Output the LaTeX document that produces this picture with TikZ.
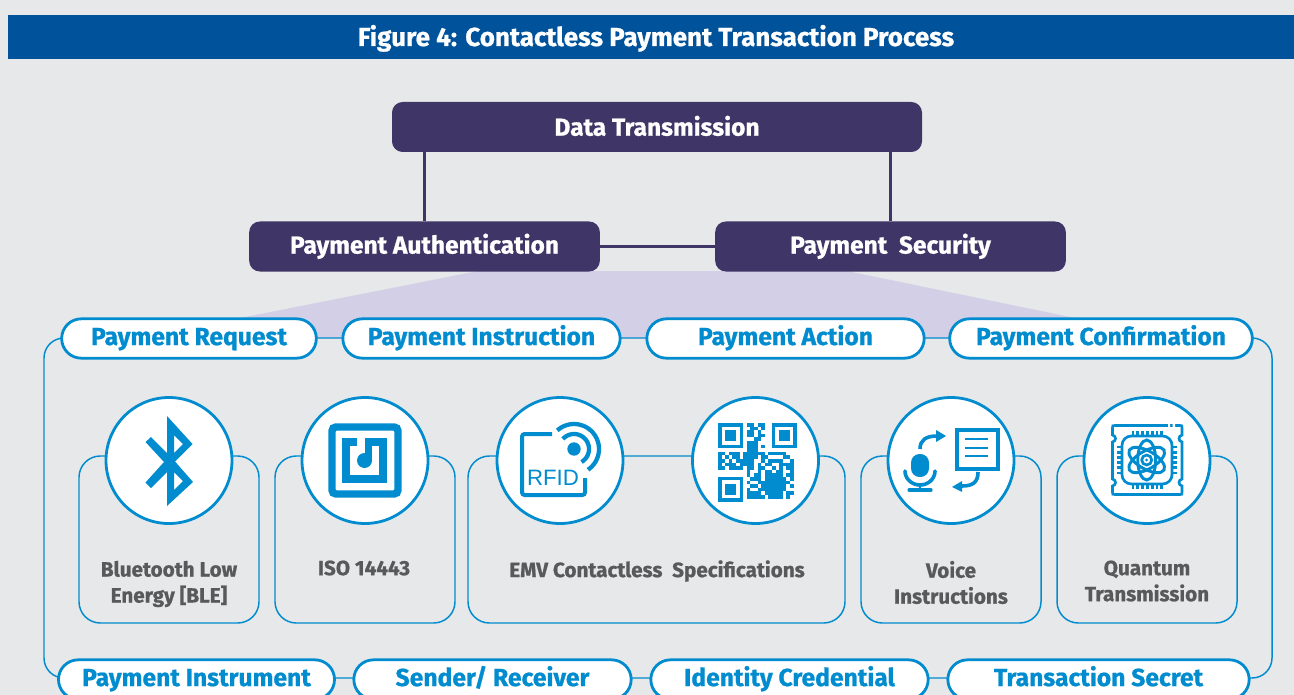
\documentclass[tikz,border=0pt]{standalone}
\usepackage{fontspec}
\setmainfont{Fira Sans}[BoldFeatures={FakeBold=0.8}]
\newfontfamily\tagfont{Liberation Sans}
\usetikzlibrary{positioning, calc}
\definecolor{pagegray}{RGB}{231,232,234}
\definecolor{bandblue}{RGB}{0,82,155}
\definecolor{darkviolet}{RGB}{63,53,102}
\definecolor{paleviolet}{RGB}{210,207,230}
\definecolor{lineblue}{RGB}{0,140,206}
\definecolor{textgray}{RGB}{88,89,91}
\tikzset{
    violetbox/.style={draw=none, fill=darkviolet, rounded corners=8, text=white, font=\bfseries\fontsize{18.4}{20}\selectfont, minimum height=37.5pt, text height=15pt, text depth=3pt},
    pillbox/.style={draw=lineblue, line width=2.1pt, fill=white, rounded corners=14.7, text=lineblue, font=\bfseries\fontsize{18.5}{20}\selectfont, minimum height=29.5pt, text height=14pt, text depth=4.2pt},
    cardbox/.style={draw=lineblue, line width=1.1pt, rounded corners=16},
    iconcircle/.style={draw=lineblue, line width=2.1pt, fill=white, circle, minimum size=94.5pt, inner sep=0pt},
    cardtext/.style={text=textgray, font=\bfseries\fontsize{15.5}{19.5}\selectfont, align=center},
}
\begin{document}
\begin{tikzpicture}[x=0.75pt, y=-0.75pt]
\useasboundingbox (0,0) rectangle (1294,695);
\clip (0,0) rectangle (1294,695);
\fill[pagegray] (0,0) rectangle (1294,695);

% Title band
\node[fill=bandblue, text=white, font=\bfseries\fontsize{19.5}{20}\selectfont, minimum width=964.5pt, minimum height=33pt, inner sep=0pt, text height=17pt, text depth=3.5pt] (title) at (651,37) {\hspace*{7.5pt}Figure 4: Contactless Payment Transaction Process};

% Fan under the two top boxes
\fill[paleviolet] (478,271) -- (847,271) -- (1075,318) -- (1075,338) -- (240,338) -- (240,318) -- cycle;

% Top boxes
\node[violetbox, minimum width=397.5pt, text height=16pt] (data) at (657,127) {Data Transmission};
\node[violetbox, minimum width=263pt, text height=13.6pt] (auth) at (424.5,246.5) {Payment Authentication};
\node[violetbox, minimum width=263pt, text height=13.6pt] (secu) at (890.5,246.5) {Payment\ \ Security};
\draw[darkviolet, line width=1.9pt] (auth.north) -- (auth.north |- data.south);
\draw[darkviolet, line width=1.9pt] (secu.north) -- (secu.north |- data.south);
\draw[darkviolet, line width=1.9pt] (auth) -- (secu);

% Outer frame
\draw[lineblue, line width=1.1pt, rounded corners=15] (44,338) rectangle (1272,678);

% Pills, top row
\node[pillbox, minimum width=191pt] (req) at (189,338.5) {Payment Request};
\node[pillbox, minimum width=208pt] (ins) at (481.5,338.5) {Payment Instruction};
\node[pillbox, minimum width=208pt] (act) at (785.5,338.5) {Payment Action};
\node[pillbox, minimum width=227pt] (con) at (1101,338.5) {Payment Confirmation};

% Pills, bottom row
\node[pillbox, minimum width=207pt] (inst) at (196.5,679.5) {Payment Instrument};
\node[pillbox, minimum width=208pt] (send) at (492.5,679.5) {Sender/ Receiver};
\node[pillbox, minimum width=208pt] (iden) at (789.5,679.5) {Identity Credential};
\node[pillbox, minimum width=226pt] (secr) at (1098.5,679.5) {Transaction Secret};

% Cards
\draw[cardbox] (79,456) rectangle (259,623);
\draw[cardbox] (275,456) rectangle (455,623);
\draw[cardbox] (468,456) rectangle (845,623);
\draw[cardbox] (861,456) rectangle (1041,623);
\draw[cardbox] (1057,456) rectangle (1237,623);

% Circles
\foreach \n/\x in {ble/169, iso/365, rfid/560, qr/755.5, voice/951, chip/1147} {
    \node[iconcircle] (\n) at (\x,460.5) {};
}

% Card labels
\node[cardtext] (blet) at (169,584) {Bluetooth Low\\Energy [BLE]};
\node[cardtext] (isot) at (364,568) {ISO 14443};
\node[cardtext] (emvt) at (657,571) {EMV Contactless\ \ Specifications};
\node[cardtext] (voit) at (951,582.5) {Voice\\Instructions};
\node[cardtext] (quat) at (1147,581) {Quantum\\Transmission};

% Bluetooth icon
\fill[lineblue, even odd rule] (167,416) -- (192.5,444) -- (175,461.5) -- (193,482) -- (167,506) -- (167,472) -- (151,488) -- (145.5,482.5) -- (164,462) -- (145.5,442) -- (151,437) -- (167,453) -- cycle
    (174,435) -- (174,453) -- (183,444) -- cycle
    (174,472) -- (174,490) -- (183,481) -- cycle;

% NFC icon
\draw[lineblue, line width=5.6pt, rounded corners=3] (332,427) rectangle (398,494);
\draw[lineblue, line width=5.6pt] (357,442) -- (346,442) -- (346,479) -- (383,479) -- (383,442) -- (368.5,442) -- (368.5,460);
\fill[lineblue] (364.5,460.5) circle (7.5);

% RFID icon
\draw[lineblue, line width=3pt, rounded corners=2] (552,434) -- (522,434) -- (522,495) -- (585,495) -- (585,478);
\node[text=lineblue, font=\tagfont\fontsize{16.7}{20}\selectfont, inner sep=0pt] (rfidt) at (553,478) {RFID};
\fill[lineblue] (574,449) circle (6.7);
\draw[lineblue, line width=3.2pt] plot[domain=-138:60, samples=30] ({574+15*cos(\x)},{449+15*sin(\x)});
\draw[lineblue, line width=3.2pt] plot[domain=-132:56, samples=30] ({574+25*cos(\x)},{449+25*sin(\x)});

% QR icon
\foreach \x/\y in {718/423, 771.5/423, 718/476.5} {
    \draw[lineblue, line width=2.7pt] (\x+1.8,\y+1.8) rectangle (\x+23.4,\y+23.4);
    \fill[lineblue] (\x+7.2,\y+7.2) rectangle (\x+18,\y+18);
}
\foreach \r/\c/\n in {0/8/2, 0/11/2, 1/9/2, 1/12/1, 2/8/2, 2/11/1, 3/8/2, 3/11/2, 4/10/2, 5/8/3, 6/8/3, 6/12/1, 7/8/3,
    8/0/2, 8/3/3, 8/7/6, 8/14/1, 8/15/4, 9/0/1, 9/2/1, 9/4/2, 9/7/4, 9/12/2, 9/18/2,
    10/0/2, 10/3/1, 10/5/5, 10/12/1, 10/14/4, 10/20/1, 11/0/1, 11/2/3, 11/6/4, 11/11/1, 11/13/2, 11/17/4,
    12/0/2, 12/3/4, 12/8/2, 12/11/2, 12/15/1, 12/17/1, 12/19/2, 13/8/1, 13/11/1, 13/13/2, 13/16/2, 13/20/1,
    14/8/1, 14/10/2, 14/13/5, 14/19/2, 15/9/3, 15/13/6, 15/20/1, 16/8/1, 16/11/9, 17/9/2, 17/12/7, 17/20/1,
    18/8/1, 18/11/8, 19/8/4, 19/13/5, 19/19/2, 20/8/5, 20/14/4, 20/19/1} {
    \fill[lineblue] (718+\c*3.6,423+\r*3.6) rectangle (718+\c*3.6+\n*3.6,423+\r*3.6+3.6);
}

% Voice icon
\fill[lineblue, rounded corners=6.5] (911,454) rectangle (929,477);
\draw[lineblue, line width=2.7pt, line cap=round] plot[domain=0:180, samples=20] ({920+15*cos(\x)},{471+14*sin(\x)});
\draw[lineblue, line width=2.2pt] (920,485) -- (920,490);
\draw[lineblue, line width=2.4pt, line cap=round] (909,490) -- (931,490);
\draw[lineblue, line width=2.7pt] (920,449) .. controls (920,440) and (926,436) .. (937,436);
\fill[lineblue] (936,430) -- (946,436) -- (936,442) -- cycle;
\draw[lineblue, line width=2.4pt] (957,430) rectangle (998,469);
\foreach \y in {439,448,456} {
    \draw[lineblue, line width=2pt] (965,\y) -- (988,\y);
}
\draw[lineblue, line width=2.7pt] (978,472) .. controls (978,482) and (973,486) .. (962,486);
\fill[lineblue] (962,481) -- (952,487) -- (962,492) -- cycle;

% Quantum chip icon
\begin{scope}[lineblue, line width=2pt]
\draw (1115,425.5) -- (1180,425.5) .. controls (1182,425.5) .. (1182,428) -- (1182,435) .. controls (1178,436) and (1178,441) .. (1182,442) -- (1182,479) .. controls (1178,480) and (1178,485) .. (1182,486) -- (1182,492) .. controls (1182,494.5) .. (1180,494.5) -- (1115,494.5) .. controls (1112.5,494.5) .. (1112.5,492) -- (1112.5,486) .. controls (1116.5,485) and (1116.5,480) .. (1112.5,479) -- (1112.5,442) .. controls (1116.5,441) and (1116.5,436) .. (1112.5,435) -- (1112.5,428) .. controls (1112.5,425.5) .. (1115,425.5) -- cycle;
\fill[white] (1168,423) rectangle (1170,428) (1172.5,423) rectangle (1175,428);
\draw[rounded corners=7] (1122,436) rectangle (1172,484);
\foreach \t in {0,1,...,6} {
    \draw (1133+\t*4.8,431) -- (1133+\t*4.8,435);
    \draw (1133+\t*4.8,485) -- (1133+\t*4.8,489);
}
\foreach \t in {0,1,...,5} {
    \draw (1117,447+\t*5.2) -- (1121,447+\t*5.2);
    \draw (1173,447+\t*5.2) -- (1177,447+\t*5.2);
}
\foreach \a in {30,90,150} {
    \draw[rotate around={\a:(1146.7,460)}, line width=2.2pt] (1146.7,460) ellipse (20 and 9);
}
\draw (1146.7,460) circle (5);
\fill (1146.7,460) circle (1.5);
\end{scope}
\end{tikzpicture}
\end{document}
